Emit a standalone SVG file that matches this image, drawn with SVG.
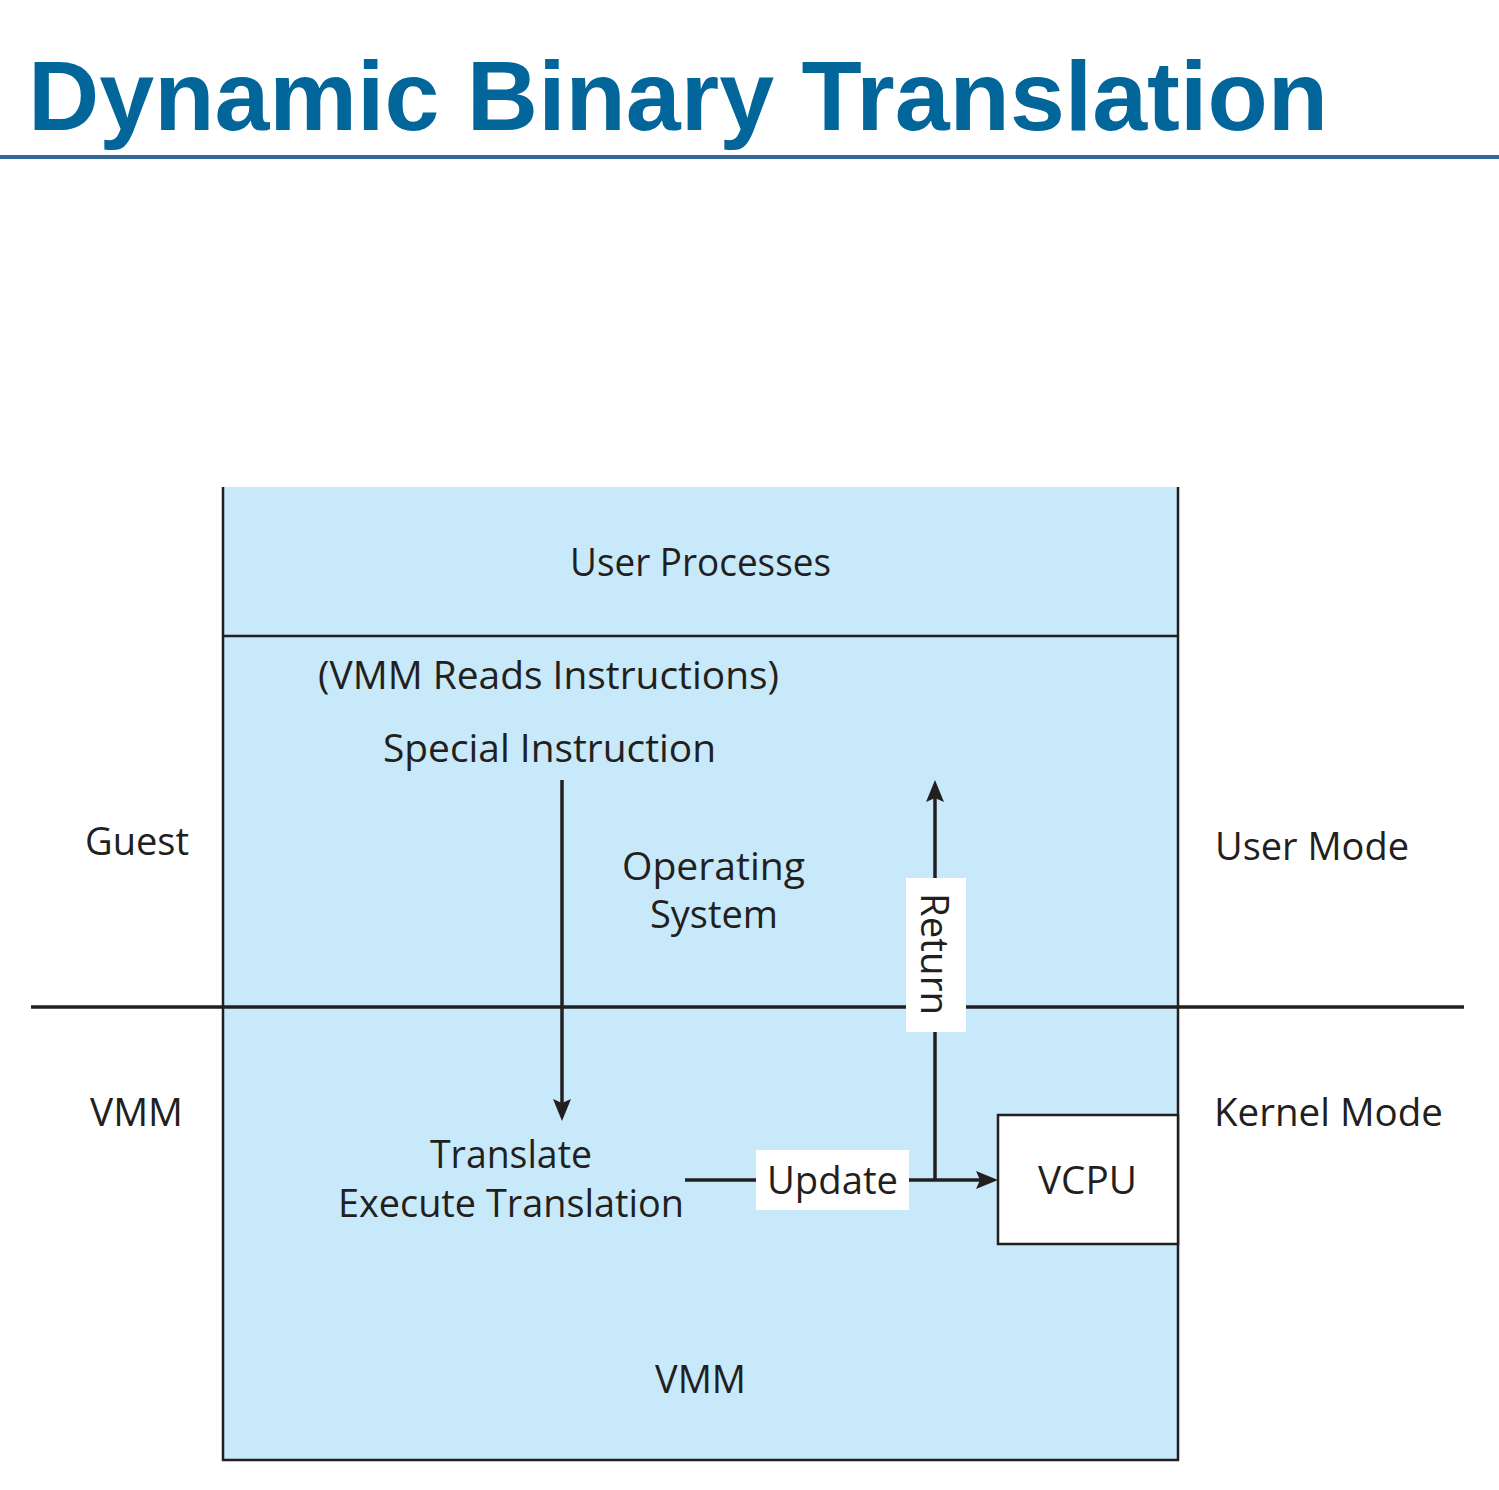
<svg xmlns="http://www.w3.org/2000/svg" width="1499" height="1490" viewBox="0 0 1499 1490">
<defs>
<style>
.t{font-family:"Open Sans","Liberation Sans",sans-serif;font-size:38px;fill:#231f20}
.ln{stroke:#231f20;stroke-width:3.5;fill:none}
.hd{fill:#231f20;stroke:none}
.title{font-family:"Liberation Sans",Arial,sans-serif;font-weight:bold;font-size:98px;fill:#02669a}
</style>
</defs>
<rect width="1499" height="1490" fill="#fff"/>
<g id="title">
<text class="title" x="28" y="130" textLength="1300" lengthAdjust="spacingAndGlyphs">Dynamic Binary Translation</text>
<rect x="0" y="155" width="1499" height="4" fill="#336699"/>
</g>
<g id="main-box">
<rect x="223" y="487" width="955" height="973" fill="#c7e9f9"/>
<path d="M223,487 V1460 H1178 V487" stroke="#231f20" stroke-width="2.5" fill="none"/>
</g>
<g id="user-processes">
<line x1="223" y1="636" x2="1178" y2="636" stroke="#231f20" stroke-width="2.5"/>
<text class="t" x="570" y="576" textLength="261" lengthAdjust="spacingAndGlyphs">User Processes</text>
</g>
<g id="guest-os">
<text class="t" x="318" y="689" textLength="461" lengthAdjust="spacingAndGlyphs">(VMM Reads Instructions)</text>
<text class="t" x="383" y="762" textLength="333" lengthAdjust="spacingAndGlyphs">Special Instruction</text>
<text class="t" x="622" y="880" textLength="183" lengthAdjust="spacingAndGlyphs">Operating</text>
<text class="t" x="650" y="928" textLength="128" lengthAdjust="spacingAndGlyphs">System</text>
</g>
<g id="side-labels">
<text class="t" x="85" y="855" textLength="104" lengthAdjust="spacingAndGlyphs">Guest</text>
<text class="t" x="1215" y="860" textLength="194" lengthAdjust="spacingAndGlyphs">User Mode</text>
<text class="t" x="90" y="1126" textLength="93" lengthAdjust="spacingAndGlyphs">VMM</text>
<text class="t" x="1214" y="1126" textLength="229" lengthAdjust="spacingAndGlyphs">Kernel Mode</text>
</g>
<g id="divider">
<line x1="31" y1="1007" x2="1464" y2="1007" stroke="#231f20" stroke-width="3.5"/>
</g>
<g id="translate">
<text class="t" x="430" y="1168" textLength="162" lengthAdjust="spacingAndGlyphs">Translate</text>
<text class="t" x="338" y="1217" textLength="346" lengthAdjust="spacingAndGlyphs">Execute Translation</text>
</g>
<g id="vmm">
<text class="t" x="655" y="1393" textLength="91" lengthAdjust="spacingAndGlyphs">VMM</text>
</g>
<g id="connectors">
<line class="ln" x1="562" y1="780" x2="562" y2="1105"/>
<path class="hd" d="M562,1121 L553,1099 L562,1103 L571,1099 Z"/>
<line class="ln" x1="935" y1="1180" x2="935" y2="796"/>
<path class="hd" d="M935,780 L926,802 L935,798 L944,802 Z"/>
<line class="ln" x1="685" y1="1180" x2="982" y2="1180"/>
<path class="hd" d="M998,1180 L976,1171 L980,1180 L976,1189 Z"/>
<rect x="756" y="1150" width="153" height="60" fill="#fff"/>
<text class="t" x="767" y="1194" textLength="131" lengthAdjust="spacingAndGlyphs">Update</text>
<rect x="906" y="878" width="60" height="154" fill="#fff"/>
<text class="t" transform="translate(921,893) rotate(90)" x="0" y="0" textLength="122" lengthAdjust="spacingAndGlyphs">Return</text>
</g>
<g id="vcpu">
<rect x="998" y="1115" width="180" height="129" fill="#fff" stroke="#231f20" stroke-width="2.5"/>
<text class="t" x="1038" y="1194" textLength="99" lengthAdjust="spacingAndGlyphs">VCPU</text>
</g>
</svg>
